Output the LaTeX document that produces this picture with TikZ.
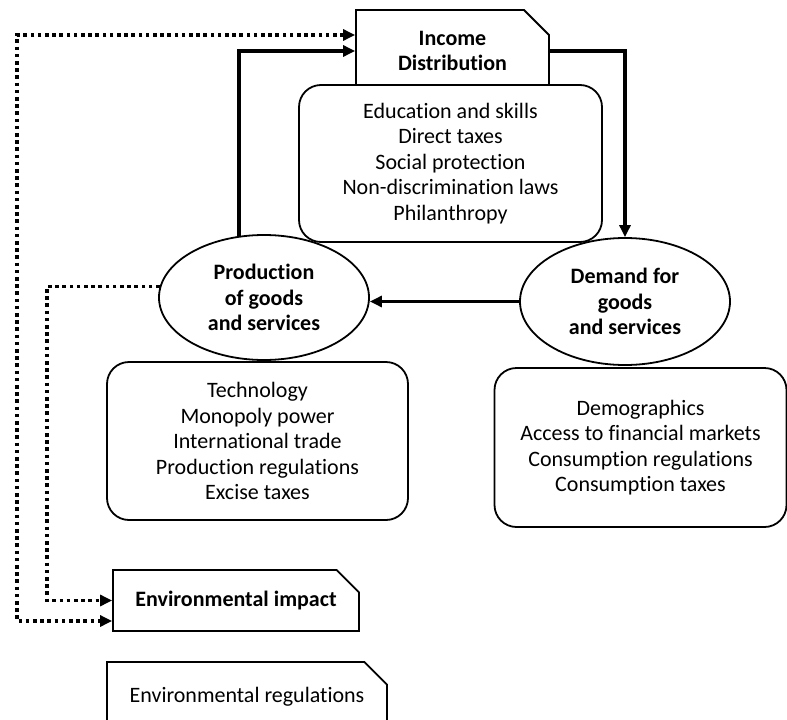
\documentclass[tikz,border=0pt]{standalone}
\usepackage{fontspec}
\setmainfont{Carlito}[Ligatures={NoCommon,NoRequired,NoContextual}]
\usetikzlibrary{shapes.geometric,shapes.misc,arrows.meta}

\begin{document}
\begin{tikzpicture}[x=1pt,y=-1pt,>={Triangle[length=12pt,width=11pt]}]
  \fontsize{22}{25.5}\selectfont
  \tikzstyle{tag}=[chamfered rectangle, chamfered rectangle corners=north east, chamfered rectangle xsep=12pt, chamfered rectangle ysep=13pt, draw, line width=1.8pt, fill=white, align=center, inner sep=0pt]
  \tikzstyle{oval}=[ellipse, draw, line width=1.8pt, fill=white, align=center, inner sep=0pt, font=\bfseries]
  \tikzstyle{list}=[rectangle, rounded corners=22pt, draw, line width=1.8pt, fill=white, align=center, inner sep=0pt]
  \tikzstyle{flow}=[line width=3.5pt, ->]
  \tikzstyle{loop}=[line width=3.8pt, dash pattern=on 3.6pt off 3.6pt]
  \useasboundingbox (0,0) rectangle (787,720);

  \node[oval, minimum width=210pt, minimum height=125pt] (Prod) at (264,297.5) {Production\\of goods\\and services};
  \node[oval, minimum width=210pt, minimum height=127pt] (Demand) at (625,301.5) {Demand for\\goods\\and services};

  \node[tag, font=\bfseries, minimum width=193pt, minimum height=82pt] (Income) at (452.5,51) {Income\\Distribution};
  \node[list, minimum width=303pt, minimum height=157pt] (IncomeList) at (450.5,163.5) {Education and skills\\Direct taxes\\Social protection\\Non-discrimination laws\\Philanthropy};
  \node[list, minimum width=301pt, minimum height=158pt] (ProdList) at (257.5,441) {Technology\\Monopoly power\\International trade\\Production regulations\\Excise taxes};
  \node[list, minimum width=292pt, minimum height=159pt] (DemandList) at (640.5,447.5) {Demographics\\Access to financial markets\\Consumption regulations\\Consumption taxes};
  \node[tag, font=\bfseries, minimum width=246pt, minimum height=61pt] (Env) at (236,600.5) {Environmental impact};
  \node[tag, minimum width=280pt, minimum height=70pt] (EnvReg) at (247,697) {Environmental regulations};

  \coordinate (OuterCorner) at (17,621);
  \coordinate (InnerCorner) at (47,600.5);

  % income loop
  \draw[flow] (Prod.112) |- (Income.west);
  \draw[flow] (Income.east) -| (Demand.north);
  \draw[flow] (Demand.west) -- (Demand.west -| Prod.east);

  % environment
  \draw[loop, <->] ([yshift=16pt]Income.west) -| (OuterCorner) |- ([yshift=-20.5pt]Env.west);
  \draw[loop, ->] (Prod.174) -| (InnerCorner) |- (Env.west);
\end{tikzpicture}
\end{document}
